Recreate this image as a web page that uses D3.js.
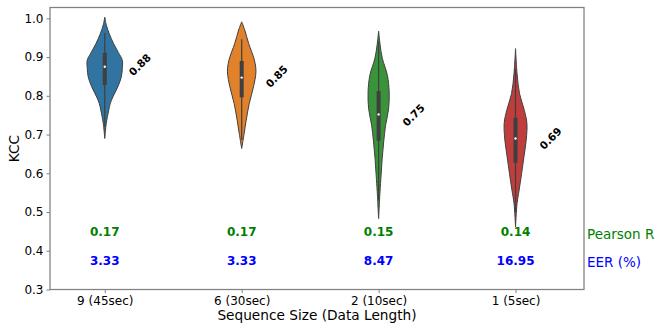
<!DOCTYPE html>
<html>
<head>
<meta charset="utf-8">
<script src="https://cdnjs.cloudflare.com/ajax/libs/d3/7.8.5/d3.min.js"></script>
<style>
	body { margin: 0; background: #fff; }
	svg text { font-family: "DejaVu Sans", sans-serif; }
</style>
</head>
<body>
<svg id="chart" width="664" height="332"></svg>
<script>
// categories and annotation values
var categories = ["9 (45sec)", "6 (30sec)", "2 (10sec)", "1 (5sec)"];
var meanKCC = [0.88, 0.85, 0.75, 0.69];
var pearsonR = ["0.17", "0.17", "0.15", "0.14"];
var eer = ["3.33", "3.33", "8.47", "16.95"];
var yTicks = [0.3, 0.4, 0.5, 0.6, 0.7, 0.8, 0.9, 1.0];

// violin outlines: KCC level and kde half width (category units)
var profileKCC = [
	[1.003, 0.983, 0.960, 0.935, 0.912, 0.892, 0.872, 0.849, 0.823, 0.797, 0.780, 0.763, 0.729, 0.690],
	[0.991, 0.970, 0.935, 0.892, 0.862, 0.823, 0.780, 0.737, 0.703, 0.664],
	[0.967, 0.931, 0.897, 0.853, 0.810, 0.767, 0.724, 0.681, 0.638, 0.595, 0.552, 0.483],
	[0.922, 0.858, 0.806, 0.763, 0.729, 0.686, 0.642, 0.599, 0.556, 0.522, 0.462]
];
var profileDensity = [
	[0, 0.011, 0.033, 0.064, 0.099, 0.128, 0.128, 0.121, 0.095, 0.059, 0.040, 0.029, 0.011, 0],
	[0, 0.022, 0.051, 0.093, 0.104, 0.086, 0.055, 0.033, 0.018, 0],
	[0, 0.011, 0.027, 0.064, 0.077, 0.073, 0.051, 0.037, 0.026, 0.018, 0.010, 0],
	[0, 0.011, 0.029, 0.064, 0.083, 0.078, 0.061, 0.044, 0.026, 0.011, 0]
];

// inner box stats
var boxQ1 = [0.828, 0.796, 0.684, 0.627];
var boxMedian = [0.875, 0.847, 0.752, 0.690];
var boxQ3 = [0.911, 0.890, 0.812, 0.743];
var whiskerLow = [0.720, 0.686, 0.530, 0.500];
var whiskerHigh = [0.962, 0.946, 0.940, 0.870];

var colors = ["#3274a1", "#e1812c", "#3a923a", "#c03d3e"];

var plotLeft = 50, plotRight = 584, plotTop = 7.5, plotBottom = 289.5;
var svg = d3.select("#chart");

var x = d3.scaleLinear().domain([-0.4, 3.5]).range([plotLeft, plotRight]);
var y = d3.scaleLinear().domain([0.3, 1.028]).range([plotBottom, plotTop]);
var w = d3.scaleLinear().domain([0, 1]).range([0, x(1) - x(0)]);

// violins
categories.forEach(function(cat, i) {
	var pts = profileKCC[i].map(function(v, j) { return {v: v, d: profileDensity[i][j]}; });
	var cx = x(i);
	var area = d3.area()
		.y(function(d) { return y(d.v); })
		.x0(function(d) { return cx - w(d.d); })
		.x1(function(d) { return cx + w(d.d); })
		.curve(d3.curveCatmullRom);
	svg.append("path")
		.attr("d", area(pts))
		.attr("fill", colors[i])
		.attr("stroke", "#3f3f3f")
		.attr("stroke-width", 1);

	svg.append("line")
		.attr("x1", cx).attr("x2", cx)
		.attr("y1", y(whiskerHigh[i])).attr("y2", y(whiskerLow[i]))
		.attr("stroke", "#3f3f3f")
		.attr("stroke-width", 1.2);
	svg.append("rect")
		.attr("x", cx - 2).attr("width", 4)
		.attr("y", y(boxQ3[i]))
		.attr("height", y(boxQ1[i]) - y(boxQ3[i]))
		.attr("fill", "#3f3f3f");
	svg.append("circle")
		.attr("cx", cx).attr("cy", y(boxMedian[i]))
		.attr("r", 1.2)
		.attr("fill", "#fff");

	// rotated mean label
	svg.append("text")
		.attr("transform", "translate(" + x(i + 0.256) + "," + y(meanKCC[i]) + ") rotate(-45)")
		.attr("text-anchor", "middle")
		.attr("dy", "0.35em")
		.attr("font-size", "10.5px")
		.attr("font-weight", "bold")
		.text(meanKCC[i].toFixed(2));

	svg.append("text")
		.attr("x", cx).attr("y", y(0.448))
		.attr("dy", "0.35em")
		.attr("text-anchor", "middle")
		.attr("font-size", "12px")
		.attr("font-weight", "bold")
		.attr("fill", "#008000")
		.text(pearsonR[i]);
	svg.append("text")
		.attr("x", cx).attr("y", y(0.373))
		.attr("dy", "0.35em")
		.attr("text-anchor", "middle")
		.attr("font-size", "12px")
		.attr("font-weight", "bold")
		.attr("fill", "#0000ff")
		.text(eer[i]);
});

// frame
svg.append("rect")
	.attr("x", plotLeft).attr("y", plotTop)
	.attr("width", plotRight - plotLeft).attr("height", plotBottom - plotTop)
	.attr("fill", "none")
	.attr("stroke", "#808080")
	.attr("stroke-width", 1.25);

// axes
var yAxis = d3.axisLeft(y).tickValues(yTicks).tickFormat(d3.format(".1f")).tickSize(3.5).tickPadding(3);
var gy = svg.append("g").attr("transform", "translate(" + plotLeft + ",0)").call(yAxis);
var xAxis = d3.axisBottom(x).tickValues(d3.range(categories.length))
	.tickFormat(function(d) { return categories[d]; }).tickSize(3.5).tickPadding(3);
var gx = svg.append("g").attr("transform", "translate(0," + plotBottom + ")").call(xAxis);
[gy, gx].forEach(function(g) {
	g.select(".domain").remove();
	g.selectAll(".tick line").attr("stroke", "#808080");
	g.selectAll(".tick text").attr("font-size", "12px").attr("fill", "#000").attr("font-family", "DejaVu Sans");
});

// axis titles
svg.append("text")
	.attr("x", (plotLeft + plotRight) / 2).attr("y", 315)
	.attr("dy", "0.35em")
	.attr("text-anchor", "middle")
	.attr("font-size", "13.7px")
	.text("Sequence Size (Data Length)");
svg.append("text")
	.attr("transform", "translate(14," + (plotTop + plotBottom) / 2 + ") rotate(-90)")
	.attr("dy", "0.35em")
	.attr("text-anchor", "middle")
	.attr("font-size", "13.7px")
	.text("KCC");

// side legend texts
svg.append("text")
	.attr("x", 587).attr("y", 234)
	.attr("dy", "0.35em")
	.attr("font-size", "13.5px")
	.attr("fill", "#008000")
	.text("Pearson R");
svg.append("text")
	.attr("x", 587).attr("y", 262.5)
	.attr("dy", "0.35em")
	.attr("font-size", "13.5px")
	.attr("fill", "#0000ff")
	.text("EER (%)");
</script>
</body>
</html>
